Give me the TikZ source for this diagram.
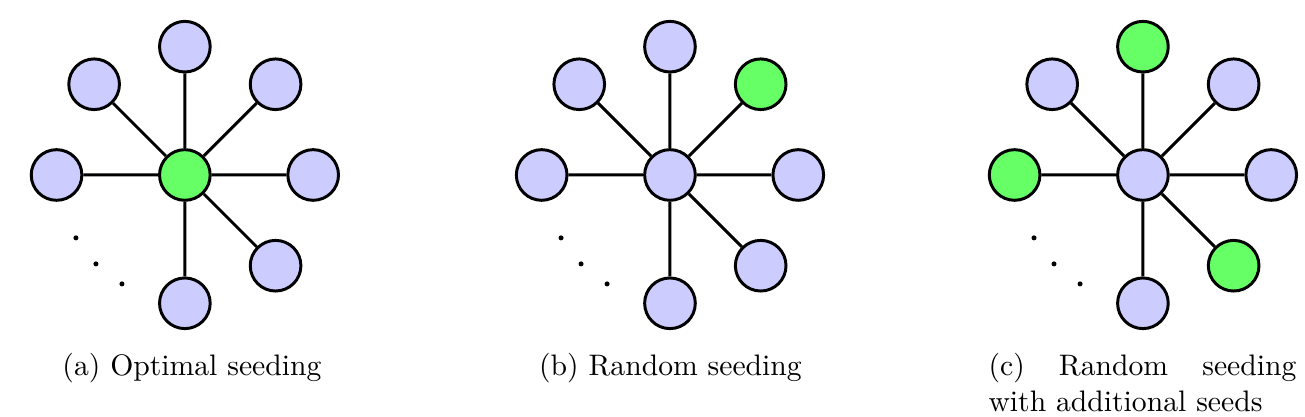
\documentclass[tikz,border=0pt]{standalone}
\tolerance=10000
\hyphenpenalty=10000
\begin{document}
\begin{tikzpicture}[
    vert/.style={circle,draw,line width=1pt,fill=blue!20,minimum size=0.6cm,inner sep=0pt},
    seed/.style={vert,fill=green!60},
    spoke/.style={line width=1pt},
    subcap/.style={inner sep=0pt,anchor=base}]
    \useasboundingbox (0,2.073) rectangle (15.46,-2.867);
    % (a) hub is the seed
    \begin{scope}[xshift=2.19cm]
        \node[seed] (a0) at (0,0) {};
        \node[vert] (a1) at (0:1.52) {};
        \node[vert] (a2) at (45:1.52) {};
        \node[vert] (a3) at (90:1.52) {};
        \node[vert] (a4) at (135:1.52) {};
        \node[vert] (a5) at (180:1.52) {};
        \node[vert] (a6) at (270:1.52) {};
        \node[vert] (a7) at (315:1.52) {};
        \draw[spoke] (a0) -- (a1) (a0) -- (a2) (a0) -- (a3) (a0) -- (a4)
            (a0) -- (a5) (a0) -- (a6) (a0) -- (a7);
        \fill (210:1.49) circle (0.85pt) (225:1.49) circle (0.85pt) (240:1.49) circle (0.85pt);
    \end{scope}
    \node[subcap] (capa) at (2.274,-2.375) {(a) Optimal seeding};
    % (b) one leaf picked at random
    \begin{scope}[xshift=7.937cm]
        \node[vert] (b0) at (0,0) {};
        \node[vert] (b1) at (0:1.52) {};
        \node[seed] (b2) at (45:1.52) {};
        \node[vert] (b3) at (90:1.52) {};
        \node[vert] (b4) at (135:1.52) {};
        \node[vert] (b5) at (180:1.52) {};
        \node[vert] (b6) at (270:1.52) {};
        \node[vert] (b7) at (315:1.52) {};
        \draw[spoke] (b0) -- (b1) (b0) -- (b2) (b0) -- (b3) (b0) -- (b4)
            (b0) -- (b5) (b0) -- (b6) (b0) -- (b7);
        \fill (210:1.49) circle (0.85pt) (225:1.49) circle (0.85pt) (240:1.49) circle (0.85pt);
    \end{scope}
    \node[subcap] (capb) at (7.943,-2.375) {(b) Random seeding};
    % (c) more random seeds
    \begin{scope}[xshift=13.54cm]
        \node[vert] (c0) at (0,0) {};
        \node[vert] (c1) at (0:1.52) {};
        \node[vert] (c2) at (45:1.52) {};
        \node[seed] (c3) at (90:1.52) {};
        \node[vert] (c4) at (135:1.52) {};
        \node[seed] (c5) at (180:1.52) {};
        \node[vert] (c6) at (270:1.52) {};
        \node[seed] (c7) at (315:1.52) {};
        \draw[spoke] (c0) -- (c1) (c0) -- (c2) (c0) -- (c3) (c0) -- (c4)
            (c0) -- (c5) (c0) -- (c6) (c0) -- (c7);
        \fill (210:1.49) circle (0.85pt) (225:1.49) circle (0.85pt) (240:1.49) circle (0.85pt);
    \end{scope}
    \node[subcap,anchor=base west,text width=103.8pt,align=justify] (capc) at (11.704,-2.375)
        {(c) Random seeding with additional seeds};
\end{tikzpicture}
\end{document}
